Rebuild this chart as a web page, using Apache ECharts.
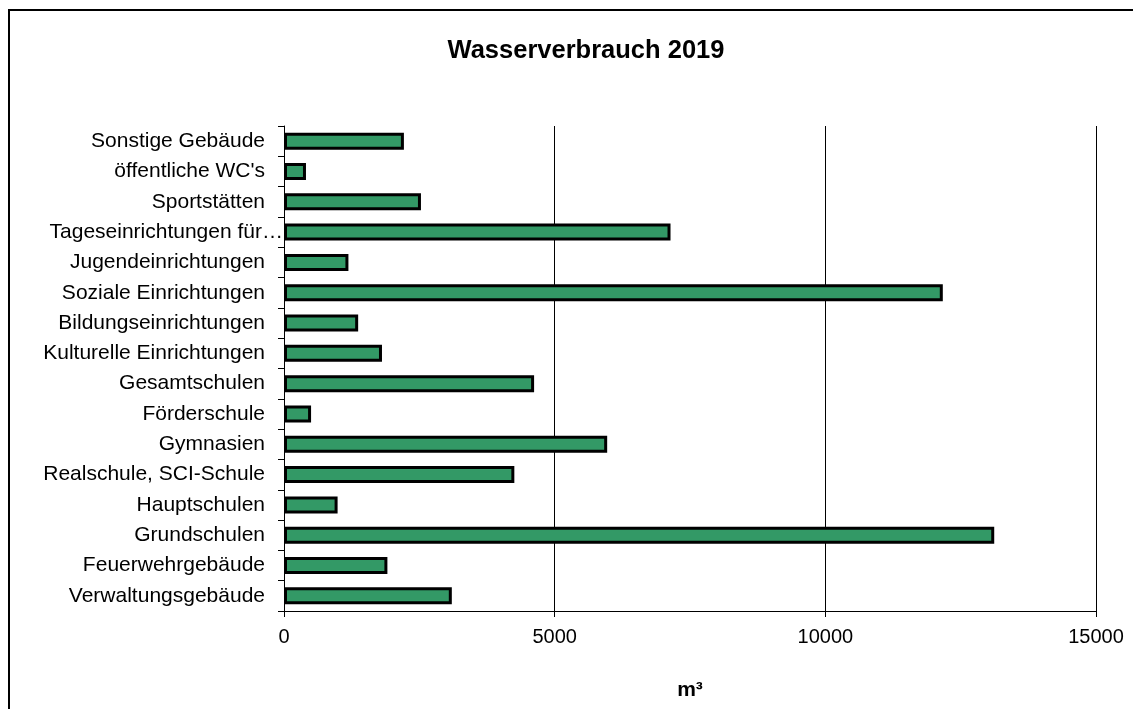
<!DOCTYPE html>
<html>
<head>
<meta charset="utf-8">
<title>Wasserverbrauch 2019</title>
<script src="https://cdn.jsdelivr.net/npm/echarts@6/dist/echarts.min.js"></script>
<style>
  html, body { margin: 0; padding: 0; background: #fff; }
  #chart { width: 1133px; height: 709px; }
</style>
</head>
<body>
<div id="chart"></div>
<script>
// categories listed bottom -> top, the way the sheet had them
var categories = [
  "Verwaltungsgebäude",
  "Feuerwehrgebäude",
  "Grundschulen",
  "Hauptschulen",
  "Realschule, SCI-Schule",
  "Gymnasien",
  "Förderschule",
  "Gesamtschulen",
  "Kulturelle Einrichtungen",
  "Bildungseinrichtungen",
  "Soziale Einrichtungen",
  "Jugendeinrichtungen",
  "Tageseinrichtungen für…",
  "Sportstätten",
  "öffentliche WC's",
  "Sonstige Gebäude"
];
// water use in m³
var verbrauch = [3100, 1910, 13120, 990, 4255, 5970, 500, 4620, 1810, 1370, 12170, 1190, 7140, 2530, 406, 2215];
var xTicks = [0, 5000, 10000, 15000];

var font = '"Liberation Sans", Arial, sans-serif';
var chart = echarts.init(document.getElementById("chart"));

chart.setOption({
  animation: false,
  backgroundColor: "#fff",
  textStyle: { fontFamily: font, color: "#000" },
  title: {
    text: "Wasserverbrauch 2019",
    left: 581,
    textAlign: "center",
    top: 33,
    textStyle: { fontFamily: font, fontSize: 25.5, fontWeight: "bold", color: "#000" }
  },
  // outer frame, right and bottom edges fall outside the picture
  graphic: [{
    type: "rect",
    shape: { x: 9, y: 10, width: 1200, height: 800 },
    style: { fill: null, stroke: "#000", lineWidth: 2 },
    silent: true
  }],
  grid: { left: 284, right: 37, top: 126, bottom: 98, containLabel: false },
  xAxis: {
    type: "value",
    min: xTicks[0],
    max: xTicks[xTicks.length - 1],
    interval: 5000,
    name: "m³",
    nameLocation: "middle",
    nameGap: 69,
    nameTextStyle: { fontFamily: font, fontSize: 21, fontWeight: "bold", color: "#000" },
    axisLine: { show: true, lineStyle: { color: "#000", width: 1 } },
    axisTick: { show: true, length: 6, lineStyle: { color: "#000" } },
    axisLabel: {
      fontFamily: font, fontSize: 20, color: "#000", margin: 16,
      formatter: function (v) { return String(v); }
    },
    splitLine: { show: true, lineStyle: { color: "#000", width: 1 } }
  },
  yAxis: {
    type: "category",
    data: categories,
    axisLine: { show: true, lineStyle: { color: "#000", width: 1 } },
    axisTick: { show: true, length: 6, lineStyle: { color: "#000" } },
    axisLabel: {
      fontFamily: font,
      fontSize: 21,
      color: "#000",
      margin: 1,
      interval: 0,
      formatter: function (v) {
        // the truncated label runs up to the axis, the others keep a gap
        return v.indexOf("…") >= 0 ? "{t|" + v + "}" : "{n|" + v + "}";
      },
      rich: {
        n: { fontFamily: font, fontSize: 21, color: "#000", padding: [0, 18, 0, 0] },
        t: { fontFamily: font, fontSize: 21, color: "#000", padding: [0, 0, 0, 0] }
      }
    },
    splitLine: { show: false }
  },
  series: [{
    type: "bar",
    data: verbrauch,
    barWidth: 17,
    itemStyle: { color: "#339966", borderColor: "#000", borderWidth: 3 }
  }]
});
</script>
</body>
</html>
